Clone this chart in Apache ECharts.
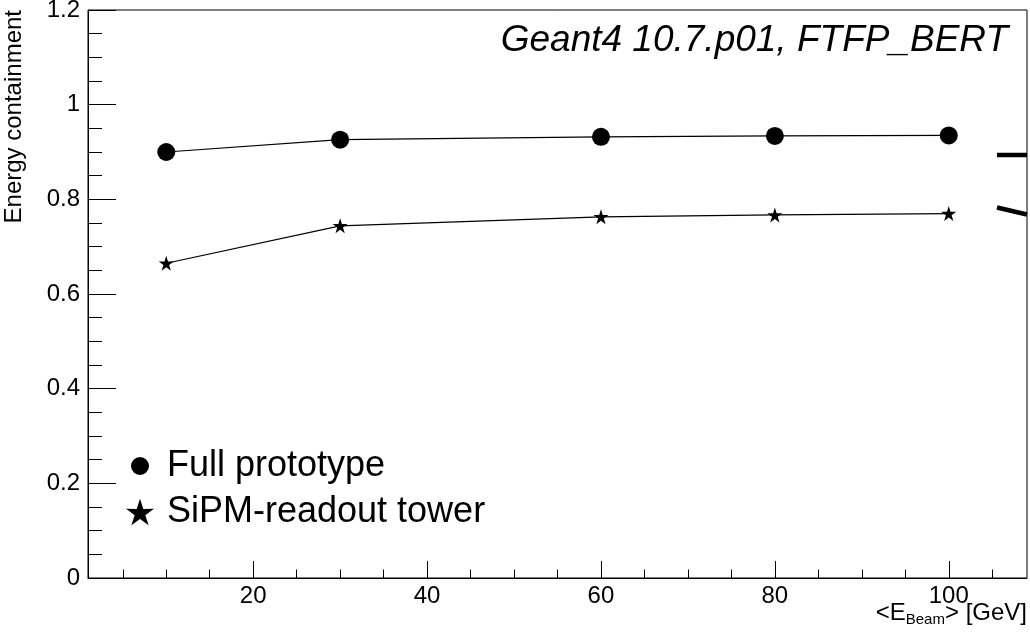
<!DOCTYPE html>
<html>
<head>
<meta charset="utf-8">
<script src="https://cdn.jsdelivr.net/npm/echarts@6.0.0/dist/echarts.min.js"></script>
<style>
  html, body { margin: 0; padding: 0; background: #fff; }
  #main { width: 1030px; height: 635px; }
</style>
</head>
<body>
<div id="main"></div>
<script>
// beam energies [GeV]
var energies = [10, 30, 60, 80, 100];
// energy containment
var fullProto = [0.900, 0.926, 0.932, 0.934, 0.935];
var sipmTower = [0.665, 0.744, 0.763, 0.767, 0.770];
var seriesNames = ['Full prototype', 'SiPM-readout tower'];

var xMajor = [20, 40, 60, 80, 100];
var xMinor = [5, 10, 15, 25, 30, 35, 45, 50, 55, 65, 70, 75, 85, 90, 95, 105];

var font = '"Liberation Sans", Arial, Helvetica, sans-serif';
var starPath = 'path://M50,0L61.17,34.63L97.55,34.55L68.07,55.87L79.39,90.45L50,69L20.61,90.45L31.93,55.87L2.45,34.55L38.83,34.63Z';
// circle padded inside a 28x28 box so it comes out smaller than the star in the legend
var dotPath = 'path://M0,0M28,28M5,14A9,9,0,1,1,23,14A9,9,0,1,1,5,14Z';

function pairs(xs, ys) {
  var out = [];
  for (var i = 0; i < xs.length; i++) out.push([xs[i], ys[i]]);
  return out;
}

var myChart = echarts.init(document.getElementById('main'));

var option = {
  backgroundColor: '#fff',
  animation: false,
  title: {
    text: 'Geant4 10.7.p01, FTFP_BERT',
    right: 22,
    top: 21,
    padding: 0,
    textStyle: { fontFamily: font, fontSize: 37, fontStyle: 'italic', fontWeight: 'normal', color: '#000', lineHeight: 40 }
  },
  grid: {
    left: 88, right: 3, top: 10, bottom: 57,
    outerBoundsMode: 'none', containLabel: false,
    show: true, borderColor: '#000', borderWidth: 1, backgroundColor: 'transparent'
  },
  legend: {
    orient: 'vertical',
    left: 121,
    top: 442,
    itemWidth: 28,
    itemHeight: 28,
    itemGap: 8,
    selectedMode: false,
    textStyle: { fontFamily: font, fontSize: 36, color: '#000', lineHeight: 38, padding: [0, 0, 0, 8] },
    data: [
      { name: seriesNames[0], icon: dotPath },
      { name: seriesNames[1], icon: starPath }
    ]
  },
  xAxis: [
    {
      type: 'value', min: 1, max: 109,
      axisLine: { lineStyle: { color: '#000', width: 1 } },
      axisTick: { inside: true, length: 17, customValues: xMajor, lineStyle: { color: '#000', width: 1 } },
      axisLabel: { customValues: xMajor, fontFamily: font, fontSize: 24, color: '#000', margin: 6 },
      splitLine: { show: false }
    },
    {
      type: 'value', min: 1, max: 109, position: 'bottom',
      axisLine: { show: false },
      axisTick: { inside: true, length: 8.5, customValues: xMinor, lineStyle: { color: '#000', width: 1 } },
      axisLabel: { show: false },
      splitLine: { show: false }
    }
  ],
  yAxis: {
    type: 'value', min: 0, max: 1.2, interval: 0.2,
    axisLine: { show: true, lineStyle: { color: '#000', width: 1 } },
    axisTick: { show: true, inside: true, length: 28, lineStyle: { color: '#000', width: 1 } },
    minorTick: { show: true, splitNumber: 4, length: 14, lineStyle: { color: '#000', width: 1 } },
    axisLabel: { fontFamily: font, fontSize: 24, color: '#000', margin: 8 },
    splitLine: { show: false },
    name: 'Energy containment',
    nameLocation: 'end',
    nameGap: 0,
    nameRotate: 90,
    nameTextStyle: { fontFamily: font, fontSize: 24, color: '#000', align: 'right', verticalAlign: 'bottom', padding: [0, 0, 62, 0] }
  },
  series: [
    {
      name: seriesNames[0],
      type: 'line',
      data: pairs(energies, fullProto),
      symbol: 'circle',
      symbolSize: 18,
      itemStyle: { color: '#000' },
      lineStyle: { color: '#000', width: 1.2 }
    },
    {
      name: seriesNames[1],
      type: 'line',
      data: pairs(energies, sipmTower),
      symbol: starPath,
      symbolSize: 15,
      itemStyle: { color: '#000' },
      lineStyle: { color: '#000', width: 1.2 }
    }
  ],
  graphic: [
    // x axis title, right aligned under the axis end
    {
      type: 'text', right: 3, top: 588,
      style: {
        text: '{m|<E}{s|Beam}{m|> [GeV]}',
        fill: '#000',
        rich: {
          m: { fontFamily: font, fontSize: 24, fill: '#000', verticalAlign: 'top', lineHeight: 26 },
          s: { fontFamily: font, fontSize: 15, fill: '#000', verticalAlign: 'bottom', lineHeight: 16, padding: [24, 0, 0, 0] }
        }
      }
    },
    { type: 'line', shape: { x1: 997, y1: 155, x2: 1027, y2: 155 }, style: { stroke: '#000', lineWidth: 4.5 } },
    { type: 'line', shape: { x1: 997, y1: 207.5, x2: 1027, y2: 214.5 }, style: { stroke: '#000', lineWidth: 4.5 } }
  ]
};

myChart.setOption(option);
</script>
</body>
</html>
